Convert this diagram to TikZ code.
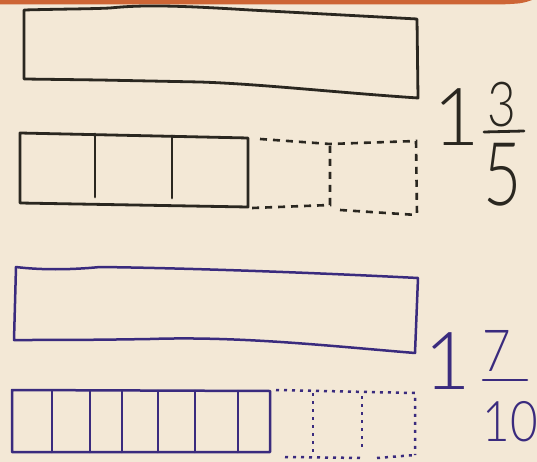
\documentclass[tikz,border=0pt]{standalone}
\usepackage{fontspec}
\usepackage{graphicx}
\newfontfamily\hand{Lato}[UprightFont=* Light]
\definecolor{paper}{HTML}{F3E8D6}
\definecolor{band}{HTML}{CD6535}
\definecolor{ink}{HTML}{2A2720}
\definecolor{pur}{HTML}{3A2B7E}
\tikzset{
  blk/.style={draw=ink, line width=2.8pt, line join=round, line cap=round},
  blkdash/.style={draw=ink, line width=2.6pt, dash pattern=on 7pt off 6pt},
  prp/.style={draw=pur, line width=2.5pt, line join=round, line cap=round},
  prpdot/.style={draw=pur, line width=2.5pt, dash pattern=on 3pt off 5pt},
  digk/.style={text=ink, inner sep=0pt, font=\hand},
  digp/.style={text=pur, inner sep=0pt, font=\hand},
}
\begin{document}
\begin{tikzpicture}[x=1pt, y=-1pt]
\useasboundingbox (0,0) rectangle (537,462);
\fill[paper] (0,0) rectangle (537,462);
\fill[band] (0,0) -- (537,0) -- (532,0) .. controls (522,3.5) .. (500,4.5) -- (0,4.5) -- cycle;

% top black whole bar
\draw[blk] (24,10) .. controls (60,9) and (90,9) .. (110,8)
  .. controls (140,5) and (170,5) .. (250,10) -- (417,19) -- (418,98)
  .. controls (330,92) and (260,84) .. (200,82) -- (100,80) -- (24,79) -- cycle;

% black bar with fifths
\draw[blk] (248,138) -- (20,133) -- (20,203) -- (248,207) -- cycle;
\draw[blk] (95,134) -- (95,197);
\draw[blk] (172,136) -- (172,198);
\draw[blkdash] (260,139) -- (330,144) -- (416,141) -- (417,215);
\draw[blkdash] (330,146) -- (330,205) -- (252,208);
\draw[blkdash] (340,210) -- (417,215);

% black mixed number
\node[digk, font=\hand\fontsize{80}{80}\selectfont] (k1) at (457,117) {1};
\node[digk, font=\hand\fontsize{62}{62}\selectfont] (k3) at (502,105) {\scalebox{0.8}[1]{3}};
\node[digk, font=\hand\fontsize{88}{88}\selectfont] (k5) at (503,175) {\scalebox{0.75}[1]{5}};
\draw[blk] (484,132) -- (524,131);

% purple whole bar
\draw[prp] (16,267) .. controls (40,270) and (70,270) .. (100,267)
  .. controls (180,268) and (300,272) .. (418,278) -- (415,353)
  .. controls (330,346) and (240,336) .. (150,339) .. controls (90,340) and (60,340) .. (14,340) -- cycle;

% purple bar with tenths
\draw[prp] (270,391) -- (12,390) -- (12,452) -- (270,452) -- cycle;
\foreach \xx in {52,90,122,158,195,238} {\draw[prp] (\xx,391) -- (\xx,452);}
\draw[prpdot] (276,390) -- (415,393) -- (415,455);
\draw[prpdot] (313,393) -- (313,452);
\draw[prpdot] (362,396) -- (362,450);
\draw[prpdot] (285,457) -- (363,458);
\draw[prpdot] (377,458) -- (415,455);

% purple mixed number
\node[digp, font=\hand\fontsize{80}{80}\selectfont] (p1) at (448,361) {1};
\node[digp, font=\hand\fontsize{58}{58}\selectfont] (p7) at (497,351) {\scalebox{0.85}[1]{7}};
\node[digp, font=\hand\fontsize{56}{56}\selectfont] (p10) at (510,422) {\scalebox{0.85}[1]{10}};
\draw[prp] (483,380) -- (527,380);
\end{tikzpicture}
\end{document}
